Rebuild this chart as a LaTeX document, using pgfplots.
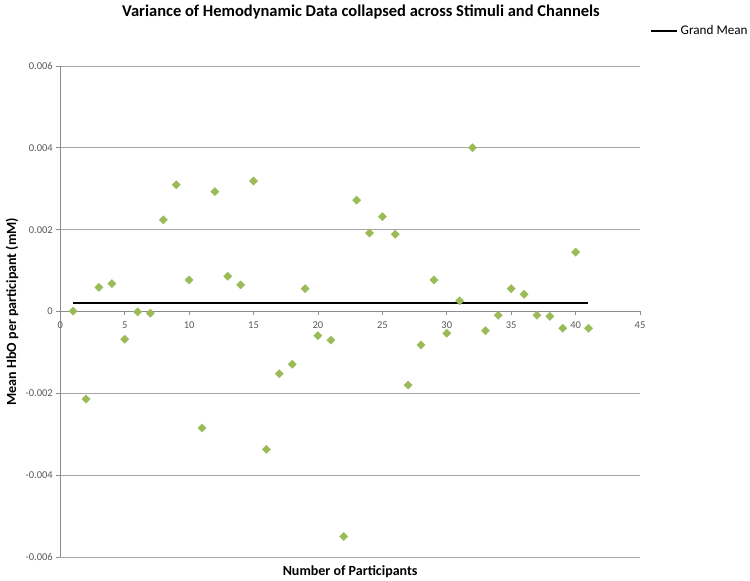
\documentclass[border=0pt]{standalone}
\usepackage{fontspec}
\setmainfont{Carlito}
\usepackage{pgfplots}
\pgfplotsset{compat=1.18}
\definecolor{excelgreen}{HTML}{9BBB59}
\definecolor{gridgray}{HTML}{A6A6A6}
\definecolor{axisgray}{HTML}{8C8C8C}
\definecolor{ticktext}{HTML}{595959}
\begin{document}
\begin{tikzpicture}
\useasboundingbox (0,0) rectangle (750pt,581pt);
\begin{axis}[
  at={(60.3pt,24pt)}, anchor=south west,
  scale only axis, width=579.7pt, height=491pt,
  xmin=0, xmax=45, ymin=-0.006, ymax=0.006,
  axis lines=middle, axis line style={-, draw=axisgray, line width=0.8pt},
  hide obscured x ticks=false, hide obscured y ticks=false,
  xtick={0,5,...,45}, xticklabels={0,5,10,15,20,25,30,35,40,45},
  ytick={-0.006,-0.004,-0.002,0,0.002,0.004,0.006},
  yticklabels={-0.006,-0.004,-0.002,0,0.002,0.004,0.006},
  scaled y ticks=false,
  ymajorgrids, major grid style={draw=gridgray, line width=0.8pt},
  tick align=outside, major tick length=4pt, tick style={draw=axisgray, line width=0.8pt},
  tick label style={font=\fontsize{10.5}{12}\selectfont, text=ticktext},
  xticklabel style={anchor=north, yshift=-3pt},
  yticklabel style={anchor=east, xshift=0pt},
  every axis title shift=0pt,
  title={\textbf{Variance of Hemodynamic Data collapsed across Stimuli and Channels}},
  title style={at={(axis description cs:0.5187,1.1000)}, anchor=base, font=\fontsize{16.5}{19}\selectfont},
  xlabel={\textbf{Number of Participants}},
  xlabel style={at={(axis description cs:0.5,-0.0387)}, anchor=base, font=\fontsize{14}{16}\selectfont},
  ylabel={\textbf{Mean HbO per participant (mM)}},
  ylabel style={at={(axis description cs:-0.0833,0.5)}, anchor=center, rotate=90, font=\fontsize{14}{16}\selectfont},
  legend style={draw=none, fill=none, at={(axis description cs:1.0173,1.0713)}, anchor=west,
    font=\fontsize{13.2}{16}\selectfont, inner sep=0pt, row sep=0pt},
  legend cell align=left,
  legend image code/.code={\draw[line width=2.5pt] (0pt,0pt) -- (26pt,0pt);},
  clip=false,
]
\addplot[only marks, mark=square*, mark size=2.9pt, mark options={rotate=45, fill=excelgreen, draw=excelgreen}, forget plot]
coordinates {
(1,0.00001) (2,-0.00214) (3,0.00059) (4,0.00068) (5,-0.00068)
(6,-0.00001) (7,-0.00004) (8,0.00224) (9,0.00310) (10,0.00077)
(11,-0.00285) (12,0.00293) (13,0.00086) (14,0.00065) (15,0.00319)
(16,-0.00337) (17,-0.00152) (18,-0.00129) (19,0.00056) (20,-0.00059)
(21,-0.00070) (22,-0.00550) (23,0.00272) (24,0.00192) (25,0.00232)
(26,0.00189) (27,-0.00180) (28,-0.00082) (29,0.00077) (30,-0.00053)
(31,0.00026) (32,0.00400) (33,-0.00047) (34,-0.00009) (35,0.00056)
(36,0.00042) (37,-0.00009) (38,-0.00012) (39,-0.00041) (40,0.00145)
(41,-0.00041)
};
\addplot[black, line width=2.7pt, no marks] coordinates {(1,0.00021) (41,0.00021)};
\addlegendentry{Grand Mean}
\end{axis}
\end{tikzpicture}
\end{document}
